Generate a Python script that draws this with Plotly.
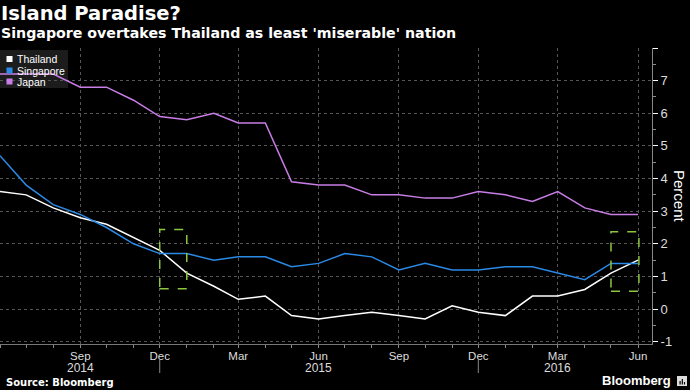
import plotly.graph_objects as go
import pandas as pd

months = [d.strftime("%Y-%m-%d") for d in pd.date_range("2014-06-01", "2016-06-01", freq="MS")]

thailand = [3.6, 3.5, 3.1, 2.8, 2.6, 2.2, 1.8, 1.1, 0.7, 0.3, 0.4, -0.2, -0.3,
            -0.2, -0.1, -0.2, -0.3, 0.1, -0.1, -0.2, 0.4, 0.4, 0.6, 1.1, 1.5]
singapore = [4.7, 3.8, 3.2, 2.9, 2.5, 2.0, 1.7, 1.7, 1.5, 1.6, 1.6, 1.3, 1.4,
             1.7, 1.6, 1.2, 1.4, 1.2, 1.2, 1.3, 1.3, 1.1, 0.9, 1.4, 1.4]
japan = [7.2, 7.2, 7.2, 6.8, 6.8, 6.4, 5.9, 5.8, 6.0, 5.7, 5.7, 3.9, 3.8,
         3.8, 3.5, 3.5, 3.4, 3.4, 3.6, 3.5, 3.3, 3.6, 3.1, 2.9, 2.9]

series_names = ["Thailand", "Singapore", "Japan"]
series_colors = ["#ffffff", "#2a8ae6", "#c97de6"]

x_tickvals = ["2014-09-01", "2014-12-01", "2015-03-01", "2015-06-01", "2015-09-01",
              "2015-12-01", "2016-03-01", "2016-06-01"]
x_ticktext = ["Sep", "Dec", "Mar", "Jun", "Sep", "Dec", "Mar", "Jun"]
year_pos = ["2014-09-01", "2015-06-01", "2016-03-01"]
year_text = ["2014", "2015", "2016"]
y_tickvals = [-1, 0, 1, 2, 3, 4, 5, 6, 7, 8]
y_ticktext = ["-1", "0", "1", "2", "3", "4", "5", "6", "7", ""]

W, H = 690, 390
ML, MR, MT, MB = 0, 38, 48, 46
PW, PH = W - ML - MR, H - MT - MB


def px(xp):
    return (xp - ML) / PW


def py(yp):
    return (H - MB - yp) / PH


fig = go.Figure()
for name, vals, col in zip(series_names, [thailand, singapore, japan], series_colors):
    fig.add_trace(go.Scatter(x=months, y=vals, mode="lines", name=name,
                             line=dict(color=col, width=1.5), showlegend=False))

shapes = []
annotations = []

# highlight boxes
green = "#8cc63f"
shapes.append(dict(type="rect", xref="x", yref="y", x0="2014-12-01", x1="2015-01-01",
                   y0=0.62, y1=2.44, line=dict(color=green, width=1.5, dash="dash")))
shapes.append(dict(type="rect", xref="x", yref="y", x0="2016-05-01", x1="2016-06-02",
                   y0=0.55, y1=2.37, line=dict(color=green, width=1.5, dash="dash")))

# year dividers
for d in ["2014-12-01", "2015-12-01"]:
    shapes.append(dict(type="line", xref="x", yref="paper", x0=d, x1=d,
                       y0=py(360), y1=py(373), line=dict(color="#888", width=1)))
# year labels
for d, t in zip(year_pos, year_text):
    annotations.append(dict(text=t, xref="x", yref="paper", x=d, y=py(367.5),
                            xanchor="center", yanchor="middle", showarrow=False,
                            font=dict(family="Liberation Sans", size=12, color="#dddddd")))

# manual legend
shapes.append(dict(type="rect", xref="paper", yref="paper", x0=px(0), x1=px(68),
                   y0=py(88), y1=py(50), fillcolor="rgba(38,38,38,0.75)",
                   line=dict(width=0), layer="below"))
leg_y = [59, 70.5, 81.5]
for name, col, yy in zip(series_names, series_colors, leg_y):
    shapes.append(dict(type="rect", xref="paper", yref="paper", x0=px(6.5), x1=px(12.5),
                       y0=py(yy + 3), y1=py(yy - 3), fillcolor=col, line=dict(width=0)))
    annotations.append(dict(text=name, xref="paper", yref="paper", x=px(14.5), y=py(yy),
                            xanchor="left", yanchor="middle", showarrow=False,
                            font=dict(family="Liberation Sans", size=10.5, color="#ffffff")))

# titles
annotations.append(dict(text="<b>Island Paradise?</b>", xref="paper", yref="paper",
                        x=px(-1), y=py(14), xanchor="left", yanchor="middle", showarrow=False,
                        font=dict(family="DejaVu Sans", size=19.5, color="#ffffff")))
annotations.append(dict(text="<b>Singapore overtakes Thailand as least 'miserable' nation</b>",
                        xref="paper", yref="paper", x=px(-1), y=py(33), xanchor="left",
                        yanchor="middle", showarrow=False,
                        font=dict(family="DejaVu Sans", size=14.2, color="#ffffff")))
annotations.append(dict(text="<b>Source: Bloomberg</b>", xref="paper", yref="paper",
                        x=px(4), y=py(382.5), xanchor="left", yanchor="middle", showarrow=False,
                        font=dict(family="DejaVu Sans", size=10, color="#ffffff")))
annotations.append(dict(text="<b>Bloomberg</b>", xref="paper", yref="paper",
                        x=px(673), y=py(380.5), xanchor="right", yanchor="middle", showarrow=False,
                        font=dict(family="Liberation Sans", size=13, color="#ffffff")))
annotations.append(dict(text="Percent", xref="paper", yref="paper", x=px(680), y=py(196),
                        xanchor="center", yanchor="middle", textangle=90, showarrow=False,
                        font=dict(family="Liberation Sans", size=15, color="#ffffff")))
# logo icon
shapes.append(dict(type="rect", xref="paper", yref="paper", x0=px(677), x1=px(687),
                   y0=py(386), y1=py(376), fillcolor="#dddddd", line=dict(width=0)))
for bx, top in [(679.5, 381), (681.7, 379), (683.9, 382)]:
    shapes.append(dict(type="rect", xref="paper", yref="paper", x0=px(bx), x1=px(bx + 1.2),
                       y0=py(384.5), y1=py(top), fillcolor="#000000", line=dict(width=0)))

fig.update_layout(
    width=W, height=H,
    margin=dict(l=ML, r=MR, t=MT, b=MB, autoexpand=False),
    paper_bgcolor="#000000", plot_bgcolor="#000000",
    showlegend=False,
    shapes=shapes, annotations=annotations,
    xaxis=dict(
        type="date", range=["2014-06-01", "2016-06-17"],
        tickvals=x_tickvals, ticktext=x_ticktext,
        ticks="outside", ticklen=1, tickcolor="#888",
        tickfont=dict(family="Liberation Sans", size=11.5, color="#dddddd"),
        showgrid=True, gridcolor="#555555", griddash="dot", gridwidth=1,
        showline=True, linecolor="#777777", linewidth=1,
        zeroline=False, automargin=False,
        minor=dict(dtick="M1", tick0="2014-06-01", ticks="outside", ticklen=3,
                   tickcolor="#888", showgrid=False),
    ),
    yaxis=dict(
        side="right", range=[-1.07, 8.0],
        tickvals=y_tickvals, ticktext=y_ticktext,
        ticks="outside", ticklen=5, tickcolor="#ffffff", tickwidth=1,
        tickfont=dict(family="Liberation Sans", size=13, color="#dddddd"),
        showgrid=True, gridcolor="#555555", griddash="dot", gridwidth=1,
        showline=True, linecolor="#888888", linewidth=1,
        zeroline=False, automargin=False,
        minor=dict(dtick=0.5, tick0=0, ticks="outside", ticklen=3,
                   tickcolor="#888", showgrid=False),
    ),
)

fig.write_html("out.html", config={"displayModeBar": False},
               post_script="document.body.style.margin='0';document.body.style.background='#000';")
